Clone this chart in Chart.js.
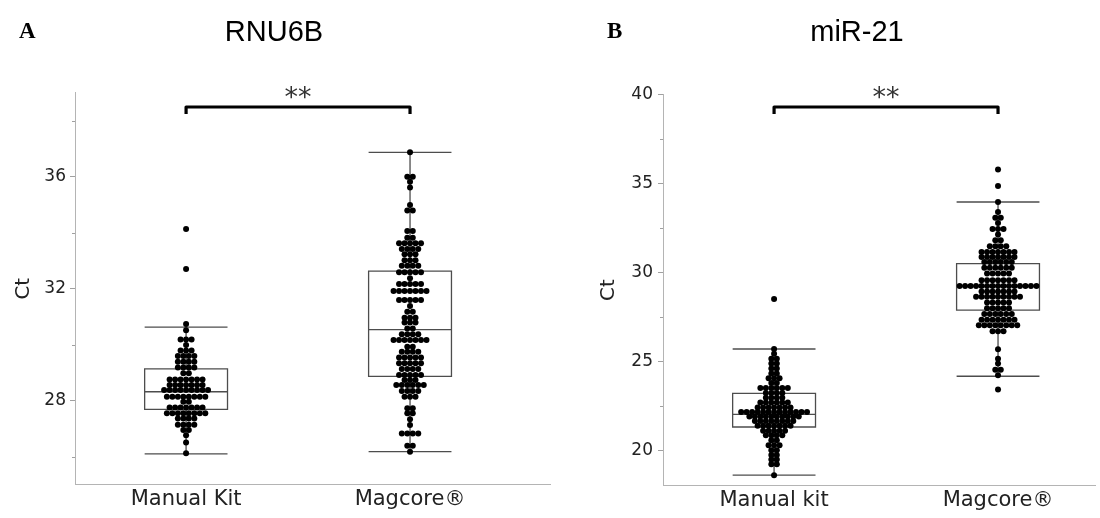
<!DOCTYPE html>
<html>
<head>
<meta charset="utf-8">
<script src="https://cdn.jsdelivr.net/npm/chart.js@4/dist/chart.umd.min.js"></script>
<style>
  html, body { margin: 0; padding: 0; background: #fff; }
  .panel { position: absolute; top: 0; height: 518px; }
  #left { left: 0; width: 560px; }
  #right { left: 560px; width: 540px; }
</style>
</head>
<body>
<div class="panel" id="left"><canvas id="rnuCanvas"></canvas></div>
<div class="panel" id="right"><canvas id="mirCanvas"></canvas></div>
<script>
// ---- data ----------------------------------------------------------------

const rnuGroups = ['Manual Kit', 'Magcore®'];
const mirGroups = ['Manual kit', 'Magcore®'];

// RNU6B Ct per sample
const rnuManual = [
  34.13, 32.70, 30.74, 30.52, 30.19, 30.19, 30.19, 29.99,
  29.79, 29.79, 29.79, 29.60, 29.60, 29.60, 29.60,
  29.39, 29.39, 29.39, 29.39, 29.19, 29.19, 29.19, 29.19, 28.98, 28.98,
  28.76, 28.76, 28.76, 28.76, 28.76, 28.76, 28.76,
  28.56, 28.56, 28.56, 28.56, 28.56, 28.56, 28.56,
  28.38, 28.38, 28.38, 28.38, 28.38, 28.38, 28.38, 28.38, 28.38,
  28.14, 28.14, 28.14, 28.14, 28.14, 28.14, 28.14, 28.14, 27.96, 27.96,
  27.76, 27.76, 27.76, 27.76, 27.76, 27.76, 27.76,
  27.55, 27.55, 27.55, 27.55, 27.55, 27.55, 27.55, 27.55,
  27.36, 27.36, 27.36, 27.36, 27.14, 27.14, 27.14, 27.14,
  26.95, 26.95, 26.77, 26.51, 26.12
];
const rnuMagcore = [
  36.87, 36.00, 36.00, 35.82, 35.61, 34.99, 34.79, 34.79,
  34.06, 34.06, 33.82, 33.82, 33.62, 33.62, 33.62, 33.62, 33.62,
  33.42, 33.42, 33.42, 33.42, 33.23, 33.23, 33.23, 33.02, 33.02, 33.02,
  32.82, 32.82, 32.82, 32.82, 32.59, 32.59, 32.59, 32.59, 32.59, 32.37,
  32.17, 32.17, 32.17, 32.17, 32.17, 31.92, 31.92, 31.92, 31.92, 31.92, 31.92, 31.92,
  31.60, 31.60, 31.60, 31.60, 31.60, 31.38, 31.18, 31.18,
  30.96, 30.96, 30.96, 30.79, 30.79, 30.79, 30.58, 30.58,
  30.37, 30.37, 30.37, 30.37, 30.17, 30.17, 30.17, 30.17, 30.17, 30.17, 30.17,
  29.93, 29.93, 29.75, 29.75, 29.75, 29.75, 29.54, 29.54, 29.54, 29.54, 29.54,
  29.34, 29.34, 29.34, 29.34, 29.34, 29.13, 29.13, 29.13, 29.13,
  28.92, 28.92, 28.92, 28.92, 28.92, 28.74, 28.74, 28.74,
  28.56, 28.56, 28.56, 28.56, 28.56, 28.56, 28.35, 28.35, 28.35, 28.35,
  28.14, 28.14, 28.14, 27.73, 27.73, 27.55, 27.55, 27.34, 27.13,
  26.83, 26.83, 26.83, 26.83, 26.39, 26.39, 26.18
];

// miR-21 Ct per sample
const mirManual = [
  28.50, 25.69, 25.42, 25.15, 25.15, 24.88, 24.88, 24.60, 24.60, 24.32, 24.32,
  24.05, 24.05, 24.05, 23.78, 23.78, 23.50, 23.50, 23.50, 23.50, 23.50, 23.50,
  23.22, 23.22, 23.22, 23.22, 22.95, 22.95, 22.95, 22.95,
  22.68, 22.68, 22.68, 22.68, 22.68, 22.68,
  22.40, 22.40, 22.40, 22.40, 22.40, 22.40, 22.40,
  22.15, 22.15, 22.15, 22.15, 22.15, 22.15, 22.15, 22.15, 22.15, 22.15, 22.15, 22.15, 22.15,
  21.90, 21.90, 21.90, 21.90, 21.90, 21.90, 21.90, 21.90, 21.90, 21.90,
  21.65, 21.65, 21.65, 21.65, 21.65, 21.65, 21.65, 21.65,
  21.38, 21.38, 21.38, 21.38, 21.38, 21.38, 21.38,
  21.10, 21.10, 21.10, 21.10, 21.10, 20.84, 20.84, 20.84, 20.84,
  20.56, 20.56, 20.28, 20.28, 20.28, 20.00, 20.00,
  19.74, 19.74, 19.48, 19.48, 19.22, 19.22, 18.60
];
const mirMagcore = [
  35.77, 34.85, 33.95, 33.39, 33.07, 33.07, 32.77, 32.43, 32.43, 32.43,
  32.12, 31.80, 31.80, 31.46, 31.46, 31.46, 31.46,
  31.14, 31.14, 31.14, 31.14, 31.14, 31.14, 31.14,
  30.86, 30.86, 30.86, 30.86, 30.86, 30.86, 30.86,
  30.58, 30.58, 30.58, 30.58, 30.58, 30.58, 30.26, 30.26, 30.26, 30.26, 30.26, 30.26,
  29.93, 29.93, 29.93, 29.93, 29.93, 29.55, 29.55, 29.55, 29.55, 29.55, 29.55, 29.55,
  29.23, 29.23, 29.23, 29.23, 29.23, 29.23, 29.23, 29.23,
  29.23, 29.23, 29.23, 29.23, 29.23, 29.23, 29.23,
  28.92, 28.92, 28.92, 28.92, 28.92, 28.92, 28.92,
  28.62, 28.62, 28.62, 28.62, 28.62, 28.62, 28.62, 28.62, 28.62,
  28.30, 28.30, 28.30, 28.30, 28.30, 27.98, 27.98, 27.98, 27.98, 27.98,
  27.66, 27.66, 27.66, 27.66, 27.66, 27.66, 27.34, 27.34, 27.34, 27.34, 27.34, 27.34, 27.34,
  27.02, 27.02, 27.02, 27.02, 27.02, 27.02, 27.02, 27.02, 26.69, 26.69, 26.69,
  25.67, 25.15, 24.87, 24.53, 24.53, 24.21, 23.41
];

// box summaries: [lower whisker, Q1, median, Q3, upper whisker]
const rnuBoxes = [
  [26.10, 27.69, 28.32, 29.14, 30.63],
  [26.18, 28.87, 30.54, 32.63, 36.87]
];
const mirBoxes = [
  [18.60, 21.31, 22.02, 23.20, 25.69],
  [24.16, 27.87, 29.23, 30.49, 33.95]
];

const rnuTicks = [28, 32, 36];
const rnuMinorTicks = [26, 30, 34, 38];
const mirTicks = [20, 25, 30, 35, 40];
const mirMinorTicks = [22.5, 27.5, 32.5, 37.5];

// ---- drawing -------------------------------------------------------------

const FONT = '"DejaVu Sans", sans-serif';
const BOX_HALF = 0.185;     // half box width, x units
const DOT_PITCH = 0.0245;   // horizontal dot spacing in a swarm row, x units

// lay equal values side by side, centred on the group position
function swarm(values, center) {
  const rows = new Map();
  values.forEach(v => rows.set(v, (rows.get(v) || 0) + 1));
  const pts = [];
  rows.forEach((n, v) => {
    for (let i = 0; i < n; i++) {
      pts.push({ x: center + (i - (n - 1) / 2) * DOT_PITCH, y: v });
    }
  });
  return pts;
}

function makePanel(canvas, cfg) {
  const decor = {
    id: 'decor',
    beforeDatasetsDraw(chart) {
      const { ctx, scales: { x, y } } = chart;
      ctx.save();
      ctx.strokeStyle = '#4d4d4d';
      ctx.lineWidth = 1.3;
      cfg.boxes.forEach((b, i) => {
        const cx = x.getPixelForValue(i + 1);
        const l = x.getPixelForValue(i + 1 - BOX_HALF);
        const r = x.getPixelForValue(i + 1 + BOX_HALF);
        const [lo, q1, med, q3, hi] = b.map(v => y.getPixelForValue(v));
        ctx.beginPath();
        ctx.moveTo(cx, hi); ctx.lineTo(cx, q3);
        ctx.moveTo(cx, q1); ctx.lineTo(cx, lo);
        ctx.moveTo(l, hi); ctx.lineTo(r, hi);
        ctx.moveTo(l, lo); ctx.lineTo(r, lo);
        ctx.moveTo(l, med); ctx.lineTo(r, med);
        ctx.rect(l, q3, r - l, q1 - q3);
        ctx.stroke();
      });
      ctx.restore();
    },
    afterDraw(chart) {
      const { ctx, chartArea, scales: { x, y } } = chart;
      ctx.save();

      // minor y ticks
      ctx.strokeStyle = '#a0a0a0';
      ctx.lineWidth = 1;
      ctx.beginPath();
      cfg.minor.forEach(v => {
        const py = Math.round(y.getPixelForValue(v)) + 0.5;
        ctx.moveTo(chartArea.left - 3, py);
        ctx.lineTo(chartArea.left, py);
      });
      ctx.stroke();

      // significance bracket
      const x1 = x.getPixelForValue(1), x2 = x.getPixelForValue(2);
      ctx.strokeStyle = '#000';
      ctx.lineWidth = 3.2;
      ctx.lineJoin = 'round';
      ctx.beginPath();
      ctx.moveTo(x1, 114);
      ctx.lineTo(x1, 107);
      ctx.lineTo(x2, 107);
      ctx.lineTo(x2, 114);
      ctx.stroke();

      ctx.fillStyle = '#333';
      ctx.textAlign = 'center';
      ctx.textBaseline = 'alphabetic';
      ctx.font = '27px ' + FONT;
      ctx.fillText('**', (x1 + x2) / 2, 106);

      // panel letter and title
      ctx.fillStyle = '#000';
      ctx.textAlign = 'left';
      ctx.font = 'bold 23px "Liberation Serif", serif';
      ctx.fillText(cfg.letter, cfg.letterX, 38);
      ctx.textAlign = 'center';
      ctx.font = '29px "Liberation Sans", Arial, sans-serif';
      ctx.fillText(cfg.title, cfg.titleX, 41);
      ctx.restore();
    }
  };

  return new Chart(canvas, {
    type: 'scatter',
    data: {
      datasets: cfg.series.map((vals, i) => ({
        data: swarm(vals, i + 1),
        backgroundColor: '#000',
        borderColor: '#000',
        borderWidth: 0,
        pointRadius: 3,
        pointHoverRadius: 3
      }))
    },
    options: {
      animation: false,
      responsive: true,
      maintainAspectRatio: false,
      events: [],
      layout: { padding: { top: cfg.top, right: cfg.right, bottom: 0, left: 0 } },
      plugins: { legend: { display: false }, tooltip: { enabled: false } },
      scales: {
        x: {
          type: 'linear',
          min: cfg.xMin,
          max: cfg.xMax,
          afterBuildTicks: s => { s.ticks = [{ value: 1 }, { value: 2 }]; },
          afterFit: s => { s.height = cfg.xHeight; },
          grid: { display: false, drawTicks: false },
          border: { display: true, color: '#b4b4b4', width: 1 },
          ticks: {
            font: { family: FONT, size: 21 },
            color: '#222',
            padding: 2,
            maxRotation: 0,
            callback: v => cfg.groups[v - 1]
          }
        },
        y: {
          min: cfg.yMin,
          max: cfg.yMax,
          afterBuildTicks: s => { s.ticks = cfg.ticks.map(v => ({ value: v })); },
          afterFit: s => { s.width = cfg.yWidth; },
          grid: { drawOnChartArea: false, tickLength: 5, tickColor: '#a0a0a0' },
          border: { color: '#b4b4b4', width: 1 },
          ticks: { font: { family: FONT, size: 17 }, color: '#222', padding: cfg.tickPad },
          title: {
            display: true,
            text: 'Ct',
            color: '#222',
            font: { family: FONT, size: 20 },
            padding: { top: cfg.titlePad, bottom: 0 }
          }
        }
      }
    },
    plugins: [decor]
  });
}

makePanel(document.getElementById('rnuCanvas'), {
  series: [rnuManual, rnuMagcore],
  boxes: rnuBoxes,
  groups: rnuGroups,
  ticks: rnuTicks,
  minor: rnuMinorTicks,
  yMin: 25, yMax: 39,
  xMin: 0.504, xMax: 2.625,
  top: 92.7, right: 10, xHeight: 33.3, yWidth: 75,
  tickPad: 4, titlePad: 12,
  letter: 'A', letterX: 19, title: 'RNU6B', titleX: 274
});

makePanel(document.getElementById('mirCanvas'), {
  series: [mirManual, mirMagcore],
  boxes: mirBoxes,
  groups: mirGroups,
  ticks: mirTicks,
  minor: mirMinorTicks,
  yMin: 18, yMax: 40,
  xMin: 0.504, xMax: 2.433,
  top: 94.3, right: 5, xHeight: 32.1, yWidth: 103,
  tickPad: 5, titlePad: 37,
  letter: 'B', letterX: 47, title: 'miR-21', titleX: 297
});
</script>
</body>
</html>
